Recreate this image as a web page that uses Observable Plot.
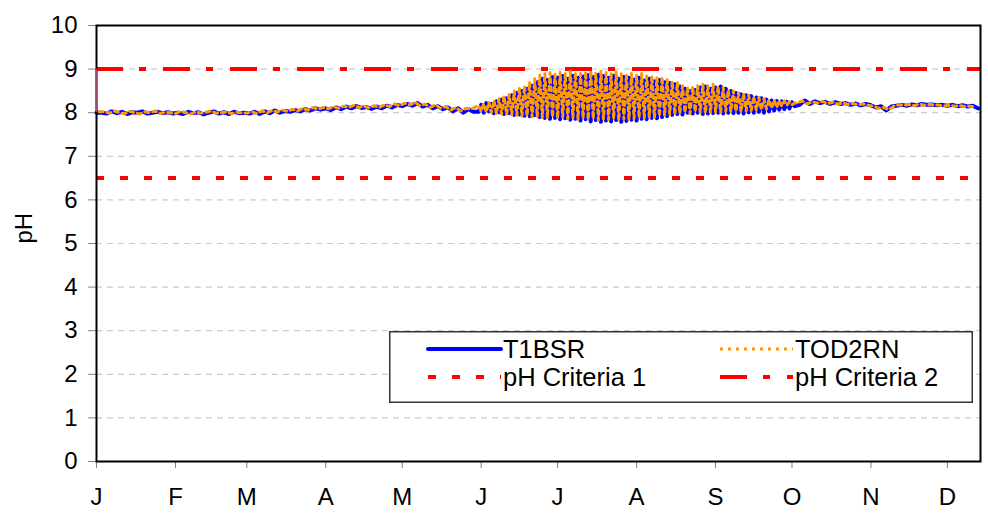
<!DOCTYPE html>
<html>
<head>
<meta charset="utf-8">
<script src="https://cdn.jsdelivr.net/npm/d3@7"></script>
<script src="https://cdn.jsdelivr.net/npm/@observablehq/plot@0.6"></script>
<style>
  html, body { margin: 0; padding: 0; background: #fff; }
  #wrap { position: relative; width: 988px; height: 519px; font-family: "Liberation Sans", Arial, sans-serif; }
  #legend { position: absolute; left: 389px; top: 331px; }
</style>
</head>
<body>
<div id="wrap"></div>
<script>
// ---- Data ----
const monthDays = [0, 31, 59, 90, 120, 151, 181, 212, 243, 273, 304, 334];
const monthLabels = ["J", "F", "M", "A", "M", "J", "J", "A", "S", "O", "N", "D"];
const yTicks = [0, 1, 2, 3, 4, 5, 6, 7, 8, 9, 10];
const gridValues = [1, 2, 3, 4, 5, 6, 7, 8, 9];

// Brief spike at the very start of the record
const startSpike = {day: 0, low: 8.0, high: 9.0};

// T1BSR, Jan–May: every 2 days from day 0
const t1Quiet1 = {start: 0, step: 2, values: [
  8.0, 8.0, 7.98, 8.03, 7.99, 8.02, 7.97, 8.01, 8.0, 8.03, 7.98, 8.0, 8.02, 7.99, 8.01, 7.98,
  8.0, 7.97, 8.02, 7.99, 8.01, 7.96, 8.0, 8.03, 7.98, 8.01, 7.97, 8.02, 7.99, 8.0,
  7.98, 8.02, 7.97, 8.03, 7.99, 8.05, 8.0, 8.04, 8.02, 8.06, 8.03, 8.08, 8.05, 8.1, 8.07,
  8.1, 8.06, 8.12, 8.08, 8.14, 8.1, 8.15, 8.11, 8.13, 8.09, 8.14, 8.1, 8.16, 8.12, 8.18,
  8.15, 8.2, 8.16, 8.22, 8.14, 8.18, 8.1, 8.15, 8.08, 8.12, 8.03, 8.1, 8.0, 8.08, 8.02
]};
// T1BSR, Jun–Sep: daily from day 150
const t1Summer = {start: 150, step: 1, values: [
  8.02, 8.18, 8.0, 8.22, 8.03, 8.2, 7.99, 8.26, 8.01, 8.3,
  7.97, 8.33, 7.99, 8.4, 7.95, 8.45, 7.96, 8.5, 7.93, 8.55,
  7.92, 8.62, 7.94, 8.7, 7.9, 8.78, 7.88, 8.75, 7.86, 8.82,
  7.88, 8.8, 7.85, 8.84, 7.87, 8.78, 7.84, 8.85, 7.86, 8.8,
  7.82, 8.83, 7.85, 8.86, 7.8, 8.82, 7.83, 8.87, 7.79, 8.84,
  7.82, 8.8, 7.8, 8.85, 7.83, 8.78, 7.79, 8.82, 7.81, 8.8,
  7.84, 8.76, 7.82, 8.8, 7.86, 8.74, 7.85, 8.78, 7.88, 8.72,
  7.87, 8.75, 7.9, 8.7, 7.92, 8.68, 7.95, 8.65, 7.97, 8.6,
  7.96, 8.55, 8.0, 8.5, 7.98, 8.52, 8.0, 8.58, 7.97, 8.6,
  7.98, 8.55, 7.99, 8.58, 8.0, 8.6, 7.98, 8.55, 8.0, 8.5,
  7.99, 8.45, 8.0, 8.42, 7.98, 8.4, 8.01, 8.38, 8.0, 8.35,
  8.02, 8.33, 8.0, 8.3, 8.03, 8.28, 8.05, 8.27, 8.07, 8.26,
  8.08, 8.25, 8.1, 8.24, 8.15
]};
// T1BSR, Oct–Dec: every 2 days from day 276
const t1Quiet2 = {start: 276, step: 2, values: [
  8.18, 8.28, 8.2, 8.26, 8.22, 8.25, 8.2, 8.24, 8.2, 8.22, 8.18, 8.21, 8.17, 8.2,
  8.17, 8.12, 8.15, 8.05, 8.14, 8.16, 8.18, 8.16, 8.19, 8.17, 8.2, 8.18, 8.19, 8.17, 8.18,
  8.16, 8.18, 8.15, 8.17, 8.14, 8.16, 8.1
]};

// TOD2RN, Jan–May: every 2 days from day 1
const todQuiet1 = {start: 1, step: 2, values: [
  8.02, 8.02, 7.99, 8.04, 8.0, 7.98, 8.03, 8.0, 7.97, 8.02, 8.0, 8.04, 7.98, 8.01, 8.0,
  7.98, 8.03, 8.0, 7.97, 8.02, 7.99, 8.01, 8.04, 7.99, 8.0, 8.02, 7.98, 8.01, 8.0, 7.99,
  8.02, 7.98, 8.04, 8.0, 8.05, 8.02, 8.06, 8.03, 8.08, 8.04, 8.1, 8.06, 8.12, 8.08, 8.12,
  8.09, 8.14, 8.1, 8.15, 8.12, 8.17, 8.12, 8.15, 8.11, 8.16, 8.12, 8.18, 8.14, 8.2, 8.16,
  8.22, 8.18, 8.24, 8.16, 8.2, 8.12, 8.18, 8.1, 8.14, 8.06, 8.12, 8.04, 8.1, 8.08, 8.14
]};
// TOD2RN, Jun–Sep: daily from day 150
const todSummer = {start: 150, step: 1, values: [
  8.16, 8.03, 8.2, 8.01, 8.24, 8.0, 8.28, 7.98, 8.32, 7.97,
  8.38, 7.96, 8.42, 7.95, 8.5, 7.94, 8.56, 7.92, 8.62, 7.92,
  8.7, 7.9, 8.78, 7.9, 8.86, 7.89, 8.9, 7.88, 8.92, 7.9,
  8.88, 7.87, 8.93, 7.9, 8.9, 7.86, 8.95, 7.88, 8.92, 7.85,
  8.9, 7.87, 8.94, 7.84, 8.96, 7.86, 8.9, 7.83, 8.95, 7.85,
  8.92, 7.84, 8.9, 7.86, 8.94, 7.82, 8.9, 7.85, 8.88, 7.84,
  8.9, 7.86, 8.86, 7.88, 8.9, 7.87, 8.84, 7.9, 8.85, 7.88,
  8.8, 7.92, 8.82, 7.93, 8.76, 7.96, 8.72, 7.95, 8.7, 7.98,
  8.62, 8.0, 8.58, 7.98, 8.6, 8.02, 8.62, 8.0, 8.65, 7.99,
  8.62, 8.0, 8.65, 8.02, 8.6, 8.0, 8.58, 8.03, 8.52, 8.02,
  8.5, 8.03, 8.46, 8.02, 8.44, 8.04, 8.4, 8.05, 8.37, 8.06,
  8.35, 8.07, 8.32, 8.08, 8.3, 8.1, 8.29, 8.12, 8.28, 8.15,
  8.27, 8.17, 8.25, 8.18, 8.22
]};
// TOD2RN, Oct–Dec: every 2 days from day 275
const todQuiet2 = {start: 275, step: 2, values: [
  8.22, 8.27, 8.2, 8.25, 8.22, 8.26, 8.21, 8.24, 8.2, 8.22, 8.19, 8.21, 8.18, 8.2, 8.17,
  8.15, 8.1, 8.12, 8.07, 8.15, 8.18, 8.17, 8.19, 8.16, 8.2, 8.17, 8.19, 8.18, 8.17, 8.16,
  8.17, 8.15, 8.16, 8.14, 8.15, 8.13
]};

const criteria1 = 6.5;
const criteria2 = 9;
const xDomainEnd = 347;

// ---- Build tables ----
const toRows = seg => seg.values.map((v, i) => ({day: seg.start + i * seg.step, ph: v}));
const t1Data = [t1Quiet1, t1Summer, t1Quiet2].flatMap(toRows);
const todData = [todQuiet1, todSummer, todQuiet2].flatMap(toRows);

const FONT = "Liberation Sans, Arial, sans-serif";
const BLUE = "#0000ff", ORANGE = "#ff9900", RED = "#ff0000";
const DASH1 = "8,16", DASH2 = "27,16,7,17";

const chart = Plot.plot({
  width: 988,
  height: 519,
  marginLeft: 96,
  marginRight: 8,
  marginTop: 25,
  marginBottom: 58,
  style: {fontFamily: FONT, fontSize: "24px", color: "#000", background: "#fff"},
  x: {domain: [0, xDomainEnd]},
  y: {domain: [0, 10]},
  marks: [
    Plot.ruleY(gridValues, {stroke: "#cccccc", strokeWidth: 1.2, strokeDasharray: "6,5"}),
    Plot.axisY({ticks: yTicks, tickSize: 8, tickPadding: 11, stroke: "#808080", label: null, fontSize: 24}),
    Plot.axisX({ticks: monthDays, tickFormat: (d, i) => monthLabels[i], tickSize: 7, tickPadding: 19, stroke: "#808080", label: null, fontSize: 24}),
    Plot.ruleY([criteria1], {stroke: RED, strokeWidth: 4, strokeDasharray: DASH1}),
    Plot.ruleY([criteria2], {stroke: RED, strokeWidth: 4, strokeDasharray: DASH2}),
    Plot.line(t1Data, {x: "day", y: "ph", stroke: BLUE, strokeWidth: 4}),
    Plot.line(todData, {x: "day", y: "ph", stroke: ORANGE, strokeWidth: 3, strokeDasharray: "4,4"}),
    Plot.frame({stroke: "#000", strokeWidth: 2}),
    Plot.ruleX([startSpike], {x: "day", y1: "low", y2: "high", stroke: "#9a4a6a", strokeWidth: 1.5}),
    Plot.text(["pH"], {frameAnchor: "left", dx: -72, rotate: -90, fontSize: 24, fill: "#000"})
  ]
});

const wrap = document.getElementById("wrap");
wrap.appendChild(chart);

// ---- Legend ----
const legendItems = [
  {name: "T1BSR", color: BLUE, width: 4, dash: null, col: 0, row: 0},
  {name: "TOD2RN", color: ORANGE, width: 3, dash: "3,5", col: 1, row: 0},
  {name: "pH Criteria 1", color: RED, width: 4, dash: DASH1, col: 0, row: 1},
  {name: "pH Criteria 2", color: RED, width: 4, dash: DASH2, col: 1, row: 1}
];
const lw = 584, lh = 72;
const svg = d3.create("svg").attr("id", "legend").attr("width", lw).attr("height", lh)
  .style("font-family", FONT);
svg.append("rect").attr("x", 0.75).attr("y", 0.75).attr("width", lw - 1.5).attr("height", lh - 1.5)
  .attr("fill", "#fff").attr("stroke", "#333").attr("stroke-width", 1.5);
const colX = [39, 331];
const rowY = [18, 46];
for (const it of legendItems) {
  const x0 = colX[it.col], y0 = rowY[it.row];
  const ln = svg.append("line").attr("x1", x0).attr("x2", x0 + 73).attr("y1", y0).attr("y2", y0)
    .attr("stroke", it.color).attr("stroke-width", it.width);
  if (it.dash) ln.attr("stroke-dasharray", it.dash);
  else ln.attr("stroke-linecap", "round");
  svg.append("text").attr("x", x0 + 75).attr("y", y0).attr("dy", "0.35em")
    .attr("font-size", 25.5).attr("fill", "#000").text(it.name);
}
wrap.appendChild(svg.node());
</script>
</body>
</html>
